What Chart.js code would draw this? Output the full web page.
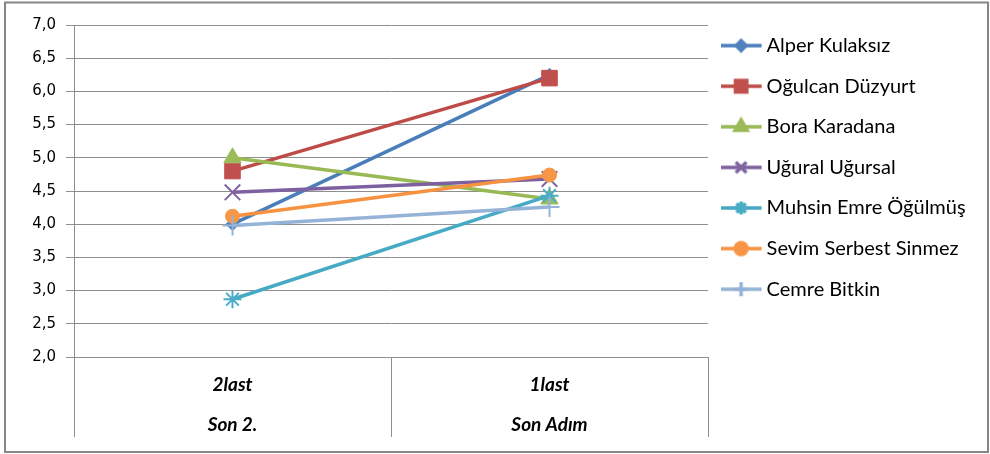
<!DOCTYPE html>
<html><head><meta charset="utf-8">
<script src="https://cdn.jsdelivr.net/npm/chart.js@4/dist/chart.umd.min.js"></script>
<style>html,body{margin:0;padding:0;background:#fff;} canvas{display:block}</style>
</head><body>
<canvas id="c" width="990" height="454"></canvas>
<script>
// ---- data ----
const categories = [['2last', 'Son 2.'], ['1last', 'Son Adım']];
const seriesNames = ['Alper Kulaksız', 'Oğulcan Düzyurt', 'Bora Karadana', 'Uğural Uğursal', 'Muhsin Emre Öğülmüş', 'Sevim Serbest Sinmez', 'Cemre Bitkin'];
const alper   = [4.00, 6.25];
const ogulcan = [4.80, 6.20];
const bora    = [5.00, 4.38];
const ugural  = [4.48, 4.68];
const muhsin  = [2.87, 4.43];
const sevim   = [4.12, 4.74];
const cemre   = [3.98, 4.26];
const yTickLabels = ['2,0', '2,5', '3,0', '3,5', '4,0', '4,5', '5,0', '5,5', '6,0', '6,5', '7,0'];

// ---- styles ----
const seriesValues = [alper, ogulcan, bora, ugural, muhsin, sevim, cemre];
const lineColors   = ['#4A7EBB', '#BE4B48', '#98B954', '#7D60A0', '#46AAC5', '#F69240', '#95B3D7'];
const markColors   = ['#4F81BD', '#C0504D', '#9BBB59', '#8064A2', '#4BACC6', '#F79646', '#95B3D7'];
const pointStyles  = ['rectRot', 'rect', 'triangle', 'crossRot', 'star', 'circle', 'cross'];
const pointRadii   = [6.5, 11, 10, 11, 9, 7, 10];
const legendRadii  = [5, 8, 7, 7.5, 6.5, 6, 7];
const filled       = [true, true, true, false, false, true, false];

const GRID = '#8f8f8f';
const legendFont = {family: 'Lato', size: 20};
const legendPad = 20.6;

// legend sample images (line + marker)
const legendImgs = seriesValues.map((_, i) => {
  const cv = document.createElement('canvas');
  cv.width = 44; cv.height = 24;
  const g = cv.getContext('2d');
  g.strokeStyle = lineColors[i]; g.lineWidth = 3.5;
  g.beginPath(); g.moveTo(0, 12); g.lineTo(41, 12); g.stroke();
  g.fillStyle = markColors[i]; g.strokeStyle = markColors[i];
  Chart.helpers.drawPoint(g, {pointStyle: pointStyles[i], radius: legendRadii[i], rotation: 0, borderWidth: filled[i] ? 1 : 1.5}, 20.5, 12);
  return cv;
});

// measure legend text to set right padding so plot ends at x=708
const mc = document.createElement('canvas').getContext('2d');
mc.font = legendFont.size + 'px ' + legendFont.family;
let maxTW = 0;
seriesNames.forEach(n => { maxTW = Math.max(maxTW, mc.measureText(n).width); });
const padRight = Math.max(0, 282 - (legendPad + 28 + legendFont.size / 2 + 10 + maxTW));

const datasets = seriesValues.map((vals, i) => ({
  label: seriesNames[i],
  data: vals,
  borderColor: lineColors[i],
  backgroundColor: markColors[i],
  borderWidth: 3.5,
  pointStyle: pointStyles[i],
  pointRadius: pointRadii[i],
  pointBorderColor: markColors[i],
  pointBackgroundColor: markColors[i],
  pointBorderWidth: filled[i] ? 1 : 2,
  tension: 0,
  fill: false,
  order: seriesValues.length - 1 - i
}));

const borderPlugin = {
  id: 'outerBorder',
  afterDraw(chart) {
    const ctx = chart.ctx;
    ctx.save();
    ctx.strokeStyle = '#878787';
    ctx.lineWidth = 2;
    ctx.strokeRect(5, 2.5, 983, 449.5);
    ctx.restore();
  }
};

new Chart(document.getElementById('c'), {
  type: 'line',
  data: {labels: categories, datasets},
  options: {
    responsive: false,
    devicePixelRatio: 1,
    animation: false,
    events: [],
    layout: {padding: {top: 15, left: 0, right: padRight, bottom: 0}},
    plugins: {
      title: {display: true, text: '', font: {size: 10, lineHeight: 1}, padding: 0},
      tooltip: {enabled: false},
      legend: {
        position: 'right',
        align: 'start',
        maxWidth: 282,
        labels: {
          usePointStyle: true,
          pointStyleWidth: 28,
          padding: legendPad,
          color: '#000',
          font: legendFont,
          sort: (a, b) => a.datasetIndex - b.datasetIndex,
          generateLabels: (chart) => {
            const items = Chart.defaults.plugins.legend.labels.generateLabels(chart);
            items.forEach(it => { it.pointStyle = legendImgs[it.datasetIndex]; });
            return items;
          }
        }
      }
    },
    scales: {
      x: {
        offset: true,
        grid: {display: true, drawOnChartArea: false, drawTicks: true, tickLength: 80, offset: true, color: GRID, lineWidth: 1},
        border: {display: true, color: GRID, width: 1},
        ticks: {color: '#000', padding: -72, maxRotation: 0, autoSkip: false,
                font: {family: 'Lato', size: 19, style: 'italic', weight: 'bold', lineHeight: 40 / 19}},
        afterFit: (s) => { s.height = 97; }
      },
      y: {
        min: 2, max: 7,
        ticks: {stepSize: 0.5, color: '#000', padding: 10, font: {family: 'DejaVu Sans', size: 15},
                callback: (v, i) => yTickLabels[i]},
        grid: {color: GRID, lineWidth: 1, tickLength: 8, drawTicks: true},
        border: {display: true, color: GRID, width: 1},
        afterFit: (s) => { s.width = 74; }
      }
    }
  },
  plugins: [borderPlugin]
});
</script>
</body></html>
